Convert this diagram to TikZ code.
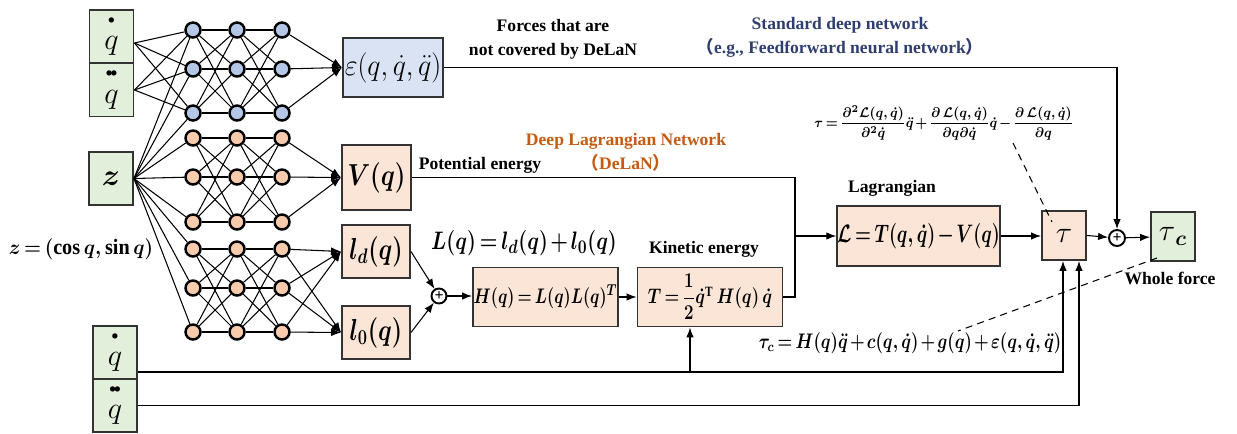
\documentclass[tikz,border=0pt]{standalone}
\usepackage{amsmath}
\usepackage{fontspec}
\setmainfont{Liberation Serif}
\newfontfamily\cjk{Noto Sans CJK SC}
\usetikzlibrary{arrows.meta}
\definecolor{inGreen}{RGB}{226,239,218}
\definecolor{boxBlue}{RGB}{218,227,243}
\definecolor{boxOrange}{RGB}{251,229,214}
\definecolor{neuBlue}{RGB}{180,199,231}
\definecolor{neuOrange}{RGB}{248,203,173}
\definecolor{netBlue}{RGB}{47,62,110}
\definecolor{netOrange}{RGB}{197,90,17}
\newcommand{\Fs}[1]{\fontsize{#1}{#1}\selectfont}
\newcommand{\Narrow}[2]{\scalebox{#1}[1]{#2}}
\thickmuskip=3mu
\medmuskip=2mu

\begin{document}
\begin{tikzpicture}[x=0.02cm,y=-0.02cm,
  wire/.style={line width=0.6pt},
  arr/.style={wire,-{Latex[length=2mm,width=1.5mm]}},
  neu/.style={circle,draw,line width=1.4pt,minimum size=0.3cm,inner sep=0pt},
  blk/.style={draw=black!80,line width=1.1pt,inner sep=0pt},
  inbox/.style={blk,fill=inGreen,minimum width=0.88cm,minimum height=1.06cm,align=center},
  obox/.style={blk,fill=boxOrange},
  sumnode/.style={circle,draw,line width=1.1pt,minimum size=0.3cm,inner sep=0pt,font=\bfseries\Fs{9}},
  lbl/.style={font=\bfseries\fontsize{10}{13.6}\selectfont,align=center}]
\useasboundingbox (0,0) rectangle (1237,433);

% inputs
\node[inbox] (qd1) at (111.5,36.5) {{\Fs{7}$\bullet$}\\[3pt]{\Fs{16}$q$}};
\node[inbox] (qdd1) at (111.5,90) {{\Fs{7}$\bullet\!\bullet$}\\[3pt]{\Fs{16}$q$}};
\node[inbox,font=\Fs{18}] (zin) at (111,178.5) {$\boldsymbol{z}$};
\node[inbox] (qd2) at (115,352.5) {{\Fs{7}$\bullet$}\\[3pt]{\Fs{16}$q$}};
\node[inbox] (qdd2) at (115,405.5) {{\Fs{7}$\bullet\!\bullet$}\\[3pt]{\Fs{16}$q$}};
\node[font=\Fs{12.5}] (zeq) at (81,249) {\Narrow{0.92}{$\boldsymbol{z=(\cos q,\sin q)}$}};

% network
\foreach \c/\x in {1/193,2/237,3/282}{
  \foreach \r/\y in {1/30,2/69,3/113} \node[neu,fill=neuBlue] (b\c\r) at (\x,\y) {};
  \foreach \r/\y in {1/138,2/177,3/222} \node[neu,fill=neuOrange] (v\c\r) at (\x,\y) {};
  \foreach \r/\y in {1/249,2/288,3/332} \node[neu,fill=neuOrange] (l\c\r) at (\x,\y) {};
}
\foreach \g in {b,v,l}
  \foreach \i in {1,2,3}{
    \draw[wire] (zin.east) -- (\g1\i);
    \foreach \j in {1,2,3}{
      \draw[wire] (\g1\i) -- (\g2\j);
      \draw[wire] (\g2\i) -- (\g3\j);
    }
  }
\foreach \i in {1,2,3}{
  \draw[wire] ([yshift=-0.13cm]qd1.east) -- (b1\i);
  \draw[wire] (qdd1.east) -- (b1\i);
}

% blocks
\node[blk,fill=boxBlue,minimum width=2cm,minimum height=1.18cm,font=\Fs{17}] (eps) at (393,67.5) {\Narrow{0.92}{$\varepsilon(q,\dot q,\ddot q)$}};
\node[obox,minimum width=1.38cm,minimum height=1.3cm,font=\Fs{17}] (Vq) at (376.5,177.5) {\Narrow{0.8}{$\boldsymbol{V(q)}$}};
\node[obox,minimum width=1.36cm,minimum height=1.06cm,font=\Fs{17}] (ld) at (376,251.5) {\Narrow{0.78}{$\boldsymbol{l_d(q)}$}};
\node[obox,minimum width=1.36cm,minimum height=1.06cm,font=\Fs{17}] (lo) at (376,332.5) {\Narrow{0.78}{$\boldsymbol{l_0(q)}$}};
\node[sumnode] (sum1) at (439,296) {+};
\node[obox,minimum width=2.9cm,minimum height=1.18cm,font=\Fs{13}] (Hbox) at (545.5,297) {\Narrow{0.77}{$\boldsymbol{H(q)=L(q)L(q)^T}$}};
\node[obox,minimum width=2.9cm,minimum height=1.18cm,font=\Fs{11.5}] (Tbox) at (710,297) {\Narrow{0.8}{$\boldsymbol{T=\dfrac{1}{2}\dot q^{\mathrm{T}}\,H(q)\,\dot q}$}};
\node[obox,minimum width=3.18cm,minimum height=1.2cm,font=\Fs{13.5}] (Lbox) at (918.5,236) {\Narrow{0.72}{$\boldsymbol{\mathcal{L}=T(q,\dot q)-V(q)}$}};
\node[obox,minimum width=0.88cm,minimum height=0.98cm,font=\Fs{18}] (taub) at (1064,235.5) {$\tau$};
\node[sumnode,minimum size=0.32cm] (sum2) at (1117,238) {+};
\node[blk,fill=inGreen,minimum width=0.88cm,minimum height=0.98cm,font=\Fs{18}] (tauc) at (1173,236.5) {$\tau_{\,\boldsymbol{c}}$};

% labels
\node[lbl] (forces) at (553,39) {Forces that are\\not covered by DeLaN};
\node[lbl,text=netBlue] (stdnet) at (840,37) {Standard deep network\\{\cjk （}e.g., Feedforward neural network{\cjk ）}};
\node[lbl,text=netOrange] (delan) at (626,152) {Deep Lagrangian Network\\{\cjk （}DeLaN{\cjk ）}};
\node[lbl] (pot) at (480,165) {Potential energy};
\node[lbl] (lag) at (892,188) {Lagrangian};
\node[lbl] (kin) at (704,249) {Kinetic energy};
\node[lbl] (whole) at (1170,278) {Whole force};
\node[font=\Fs{15}] (Leq) at (524,243) {\Narrow{0.8}{$\boldsymbol{L(q)=l_d(q)+l_0(q)}$}};
\node[font=\Fs{12}] (taucEq) at (910,343) {\Narrow{0.8}{$\boldsymbol{\tau_c=H(q)\ddot q+c(q,\dot q)+g(q)+\varepsilon(q,\dot q,\ddot q)}$}};
\node[font=\Fs{8.5}] (tauEq) at (944,123) {\Narrow{0.9}{$\boldsymbol{\tau=\dfrac{\partial^2\mathcal{L}(q,\dot q)}{\partial^2\dot q}\ddot q+\dfrac{\partial\,\mathcal{L}(q,\dot q)}{\partial q\partial\dot q}\dot q-\dfrac{\partial\,\mathcal{L}(q,\dot q)}{\partial q}}$}};

% connectors
\foreach \i in {1,2,3}{
  \draw[arr] (b3\i) -- (eps.west);
  \draw[arr] (v3\i) -- (Vq.west);
  \draw[arr] (l3\i) -- (ld.west);
  \draw[arr] (l3\i) -- (lo.west);
}
\draw[arr] (ld.east) -- (sum1);
\draw[arr] (lo.east) -- (sum1);
\draw[arr] (sum1.east) -- (sum1.east -| Hbox.west);
\draw[arr] (Hbox) -- (Tbox);
\coordinate (jn) at (795,236);
\draw[wire] (Vq.east) -| (jn);
\draw[wire] (Tbox.east) -| (jn);
\draw[arr] (jn) -- (Lbox.west);
\draw[arr] (Lbox.east) -- (Lbox.east -| taub.west);
\draw[arr] (taub.east) -- (sum2);
\draw[arr] (sum2) -- (tauc);
\draw[arr] (eps.east) -| (sum2.north);
\draw[arr] ([yshift=-0.39cm]qd2.east) -| ([xshift=-0.02cm]taub.south);
\draw[arr] (qdd2.east) -| ([xshift=0.3cm]taub.south);
\coordinate (tap) at (690,372);
\draw[arr] (tap) -- (tap |- Tbox.south);
\coordinate (tauEqTip) at (1013,143);
\coordinate (tauTip) at (1052,222);
\coordinate (taucTip) at (1157,258);
\coordinate (gTip) at (958,331);
\draw[wire,dash pattern=on 4pt off 3pt] (tauEqTip) -- (tauTip);
\draw[wire,dash pattern=on 4pt off 3pt] (taucTip) -- (gTip);
\end{tikzpicture}
\end{document}
